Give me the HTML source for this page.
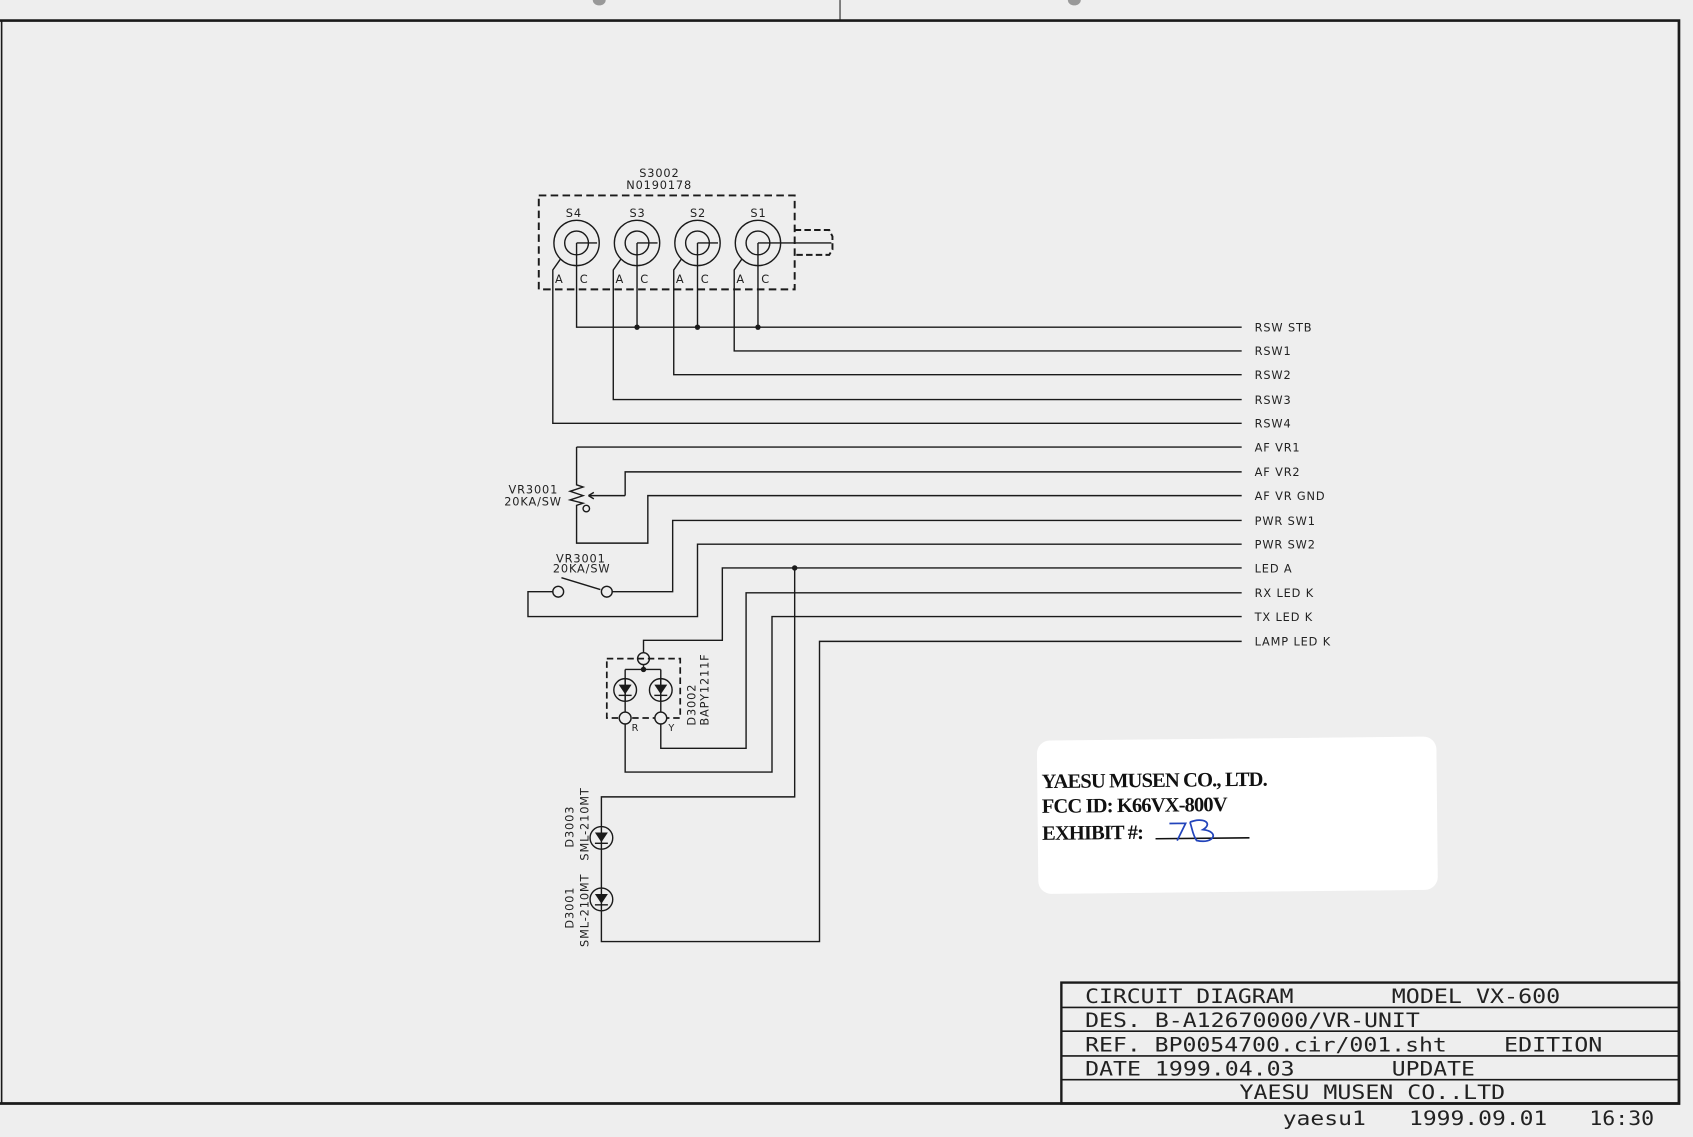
<!DOCTYPE html>
<html><head><meta charset="utf-8"><style>
html,body{margin:0;padding:0;background:#eeeeee;}
svg{display:block;}
.t{font-family:"DejaVu Sans Mono","Liberation Mono",monospace;fill:#222;}
.s{font-family:"DejaVu Sans","Liberation Sans",sans-serif;fill:#222;font-size:10.5px;letter-spacing:0.8px;}
</style></head><body>
<svg width="1693" height="1137" viewBox="0 0 1568 1053" xmlns="http://www.w3.org/2000/svg">
<rect x="0" y="0" width="1568" height="1053" fill="#eeeeee"/>
<ellipse cx="555" cy="0" rx="6" ry="5" fill="#999"/>
<ellipse cx="995" cy="0" rx="6" ry="5" fill="#999"/>
<line x1="778" y1="0" x2="778" y2="19" stroke="#222" stroke-width="1"/>
<g fill="none" stroke="#1a1a1a">
<path d="M0 19 H1555 V1022 H0" stroke-width="2.5"/>
<line x1="1.5" y1="19" x2="1.5" y2="1022" stroke-width="1.5"/>
<rect x="983" y="910" width="572" height="112" stroke-width="2.2"/>
<line x1="983" y1="933" x2="1555" y2="933" stroke-width="1.5"/>
<line x1="983" y1="955" x2="1555" y2="955" stroke-width="1.5"/>
<line x1="983" y1="978" x2="1555" y2="978" stroke-width="1.5"/>
<line x1="983" y1="1000" x2="1555" y2="1000" stroke-width="1.5"/>
</g>
<g class="t" font-size="18">
<text x="1005" y="929" textLength="193" lengthAdjust="spacingAndGlyphs">CIRCUIT DIAGRAM</text><text x="1289" y="929" textLength="156" lengthAdjust="spacingAndGlyphs">MODEL VX-600</text>
<text x="1005" y="951" textLength="310" lengthAdjust="spacingAndGlyphs">DES. B-A12670000/VR-UNIT</text>
<text x="1005" y="974" textLength="335" lengthAdjust="spacingAndGlyphs">REF. BP0054700.cir/001.sht</text><text x="1393" y="974" textLength="91" lengthAdjust="spacingAndGlyphs">EDITION</text>
<text x="1005" y="996" textLength="194" lengthAdjust="spacingAndGlyphs">DATE 1999.04.03</text><text x="1289" y="996" textLength="77" lengthAdjust="spacingAndGlyphs">UPDATE</text>
<text x="1148" y="1018" textLength="246" lengthAdjust="spacingAndGlyphs">YAESU MUSEN CO..LTD</text>
<text x="1188" y="1042" textLength="77" lengthAdjust="spacingAndGlyphs">yaesu1</text><text x="1305" y="1042" textLength="128" lengthAdjust="spacingAndGlyphs">1999.09.01</text><text x="1472" y="1042" textLength="60" lengthAdjust="spacingAndGlyphs">16:30</text>
</g>
<g transform="rotate(-0.6 1146 755)">
<rect x="961" y="684" width="370" height="142" rx="12" fill="#ffffff"/>
<g font-family="Liberation Serif,serif" font-weight="bold" font-size="19" fill="#111" letter-spacing="-0.8">
<text x="965" y="728">YAESU MUSEN CO., LTD.</text>
<text x="965" y="751">FCC ID: K66VX-800V</text>
<text x="965" y="776">EXHIBIT #:</text>
</g>
<line x1="1070" y1="776" x2="1157" y2="776" stroke="#111" stroke-width="1.5"/>
<path d="M1083 762 H1098 L1090 778 M1102 761 C1114 756 1124 762 1114 768 C1130 770 1124 782 1108 778 C1104 772 1104 766 1102 761" stroke="#2244bb" stroke-width="1.6" fill="none"/>
</g>
<g fill="none" stroke="#1a1a1a" stroke-width="1.3">
<rect x="499" y="181" width="237" height="87" stroke-dasharray="7,4" stroke-width="1.8"/>
<path d="M736 213 H768 L771 219 V231 L768 236 H736" stroke-dasharray="6,3" stroke-width="1.8"/>
<circle cx="534" cy="225" r="21"/><circle cx="534" cy="225" r="11"/><line x1="534" y1="225" x2="553" y2="225"/>
<circle cx="590" cy="225" r="21"/><circle cx="590" cy="225" r="11"/><line x1="590" y1="225" x2="609" y2="225"/>
<circle cx="646" cy="225" r="21"/><circle cx="646" cy="225" r="11"/><line x1="646" y1="225" x2="665" y2="225"/>
<circle cx="702" cy="225" r="21"/><circle cx="702" cy="225" r="11"/><line x1="702" y1="225" x2="770" y2="225"/>
<path d="M519 240 L512 250 V392 H1150"/>
<path d="M575 240 L568 250 V370 H1150"/>
<path d="M631 240 L624 250 V347 H1150"/>
<path d="M687 240 L680 250 V325 H1150"/>
<path d="M534 225 V303 H1150"/>
<path d="M590 225 V303"/><path d="M646 225 V303"/><path d="M702 225 V303"/>
<path d="M534 414 H1150"/>
<path d="M534 414 V449 L540 451 L528 455 L540 459 L528 463 L540 466 L534 468 V503 H600 V459 H1150"/>
<path d="M579 459 V437 H1150"/>
<path d="M579 459 H545"/><path d="M545 459 L550 456 M545 459 L550 462"/>
<circle cx="543" cy="471" r="3"/>
<path d="M567 548 H623 V482 H1150"/>
<circle cx="562" cy="548" r="5"/>
<circle cx="517" cy="548" r="5"/>
<path d="M512 548 H489 V571 H646 V504 H1150"/>
<path d="M1150 526 H669 V593 H596 V604"/>
<circle cx="596" cy="610" r="5.5"/>
<path d="M736 526 V738 H557 V872 H759 V594 H1150"/>
<rect x="562" y="610" width="68" height="55" stroke-dasharray="6,3.5" stroke-width="1.6"/>
<path d="M596 616 V620 M579 620 H612 M579 620 V660 M612 620 V660"/>
<circle cx="579" cy="639" r="10.5"/><circle cx="612" cy="639" r="10.5"/>
<circle cx="579" cy="665" r="5.5" fill="#eee"/><circle cx="612" cy="665" r="5.5" fill="#eee"/>
<path d="M579 670 V715 H715 V571 H1150"/>
<path d="M612 670 V693 H691 V549 H1150"/>
<circle cx="557" cy="776" r="10.5" fill="#eee"/><circle cx="557" cy="833" r="10.5" fill="#eee"/>
</g>
<g fill="#1a1a1a">
<circle cx="590" cy="303" r="2.5"/><circle cx="646" cy="303" r="2.5"/><circle cx="702" cy="303" r="2.5"/>
<circle cx="736" cy="526" r="2.5"/><circle cx="596" cy="620" r="2.5"/>
<path d="M573 634 H585 L579 643 Z"/><path d="M606 634 H618 L612 643 Z"/>
<path d="M551 771 H563 L557 780 Z"/><path d="M551 828 H563 L557 837 Z"/>
</g>
<g stroke="#1a1a1a" stroke-width="1.3">
<line x1="573" y1="644" x2="585" y2="644"/><line x1="606" y1="644" x2="618" y2="644"/>
<line x1="551" y1="781" x2="563" y2="781"/><line x1="551" y1="838" x2="563" y2="838"/>
<line x1="557" y1="766" x2="557" y2="786"/><line x1="557" y1="823" x2="557" y2="843"/>
<line x1="579" y1="629" x2="579" y2="649"/><line x1="612" y1="629" x2="612" y2="649"/>
</g>
<line x1="520" y1="535" x2="556" y2="546" stroke="#1a1a1a" stroke-width="1.3"/>
<g class="s">
<text x="592" y="164">S3002</text><text x="580" y="175">N0190178</text>
<text x="524" y="201">S4</text><text x="583" y="201">S3</text><text x="639" y="201">S2</text><text x="695" y="201">S1</text>
<text x="514" y="262">A</text><text x="537" y="262">C</text>
<text x="570" y="262">A</text><text x="593" y="262">C</text>
<text x="626" y="262">A</text><text x="649" y="262">C</text>
<text x="682" y="262">A</text><text x="705" y="262">C</text>
<text x="471" y="457">VR3001</text><text x="467" y="468">20KA/SW</text>
<text x="515" y="521">VR3001</text><text x="512" y="530">20KA/SW</text>
<text x="585" y="677" font-size="9">R</text><text x="619" y="677" font-size="9">Y</text>
<text transform="translate(644,672) rotate(-90)">D3002</text>
<text transform="translate(656,672) rotate(-90)">BAPY1211F</text>
<text transform="translate(531,785) rotate(-90)">D3003</text>
<text transform="translate(545,797) rotate(-90)">SML-210MT</text>
<text transform="translate(531,860) rotate(-90)">D3001</text>
<text transform="translate(545,877) rotate(-90)">SML-210MT</text>
<text x="1162" y="307">RSW STB</text>
<text x="1162" y="329">RSW1</text>
<text x="1162" y="351">RSW2</text>
<text x="1162" y="374">RSW3</text>
<text x="1162" y="396">RSW4</text>
<text x="1162" y="418">AF VR1</text>
<text x="1162" y="441">AF VR2</text>
<text x="1162" y="463">AF VR GND</text>
<text x="1162" y="486">PWR SW1</text>
<text x="1162" y="508">PWR SW2</text>
<text x="1162" y="530">LED A</text>
<text x="1162" y="553">RX LED K</text>
<text x="1162" y="575">TX LED K</text>
<text x="1162" y="598">LAMP LED K</text>
</g>
</svg>
</body></html>
